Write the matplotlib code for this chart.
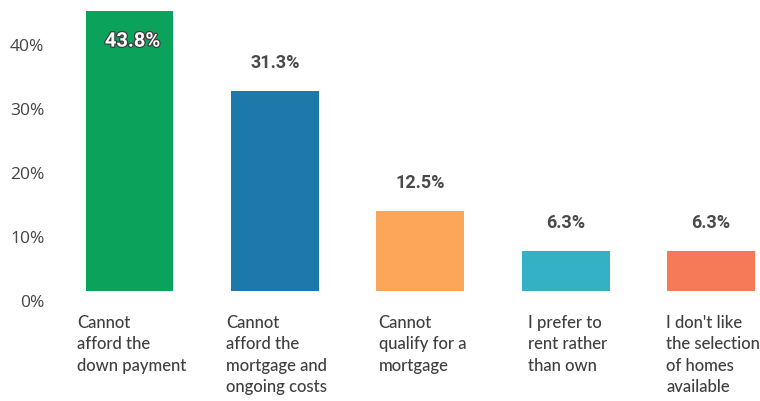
import matplotlib
matplotlib.use("Agg")
import matplotlib.pyplot as plt
import matplotlib.patheffects as pe
from matplotlib.transforms import ScaledTranslation

categories = [
    "Cannot\nafford the\ndown payment",
    "Cannot\nafford the\nmortgage and\nongoing costs",
    "Cannot\nqualify for a\nmortgage",
    "I prefer to\nrent rather\nthan own",
    "I don't like\nthe selection\nof homes\navailable",
]
values = [43.8, 31.3, 12.5, 6.3, 6.3]
value_labels = ["43.8%", "31.3%", "12.5%", "6.3%", "6.3%"]
colors = ["#0ba35b", "#1c79aa", "#fca65a", "#35b1c5", "#f77a58"]
yticks = [0, 10, 20, 30, 40]
ytick_labels = ["0%", "10%", "20%", "30%", "40%"]

W, H = 760, 402
fig = plt.figure(figsize=(W / 100, H / 100), dpi=100)
ax = fig.add_axes([56.8 / W, (H - 292) / H, (757.6 - 56.8) / W, 292 / H])

x = list(range(len(values)))
ax.bar(x, values, width=0.605, color=colors, zorder=2)
ax.set_xlim(-0.5, 4.32)
ax.set_ylim(0, 45.7)

for s in ax.spines.values():
    s.set_visible(False)
ax.set_xticks([])
ax.set_yticks(yticks)
ax.set_yticklabels(ytick_labels, fontsize=12.5, color="#444444", family="Open Sans")
ax.tick_params(axis="y", length=0, pad=9)
shift = ScaledTranslation(0, -9 / 100, fig.dpi_scale_trans)
for lab in ax.get_yticklabels():
    lab.set_transform(lab.get_transform() + shift)

# value labels
for i, (v, t) in enumerate(zip(values, value_labels)):
    if i == 0:
        txt = ax.annotate(t, (i, v), xytext=(3, -30), textcoords="offset pixels",
                          ha="center", va="center", fontsize=14.5, fontweight="bold",
                          color="white", family="Roboto")
        txt.set_path_effects([pe.Stroke(linewidth=1.8, foreground="#3d3d3d"), pe.Normal()])
    else:
        ax.annotate(t, (i, v), xytext=(0, 29), textcoords="offset pixels",
                    ha="center", va="center", fontsize=13, fontweight="bold",
                    color="#4a4a4a", family="Roboto")

# category labels below the baseline, block centred under each bar
for i, c in enumerate(categories):
    ax.annotate(c, (i, 0), xytext=(2, -23), textcoords="offset pixels",
                ha="center", va="top", multialignment="left", fontsize=12,
                color="#3f3f3f", family="Lato", fontweight="medium",
                linespacing=1.42, annotation_clip=False)

fig.savefig("out.png", dpi=100, facecolor="white")
